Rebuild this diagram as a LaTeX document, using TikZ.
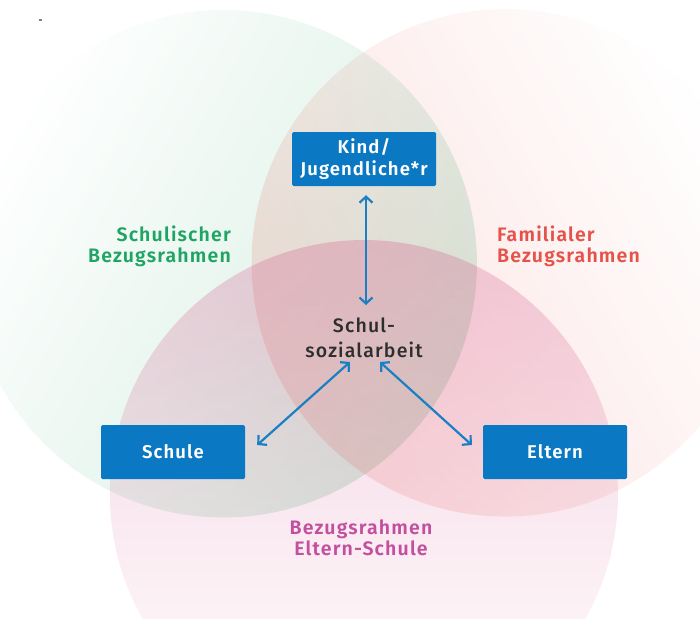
\documentclass[tikz,border=0pt]{standalone}
\usepackage{fontspec}
\setmainfont{Fira Sans}
\newfontfamily\lblfont{Fira Sans}[LetterSpace=6, BoldFont={Fira Sans SemiBold}]
\newfontfamily\midfont{Fira Sans}[LetterSpace=6, UprightFont={Fira Sans Medium}]
\usetikzlibrary{arrows.meta,fadings}
\definecolor{boxblue}{HTML}{0A78C2}
\definecolor{arrowblue}{HTML}{1A7FC3}
\definecolor{schulgreen}{HTML}{2EAA6A}
\definecolor{familred}{HTML}{E85A4F}
\definecolor{elternpink}{HTML}{D0407E}
\definecolor{lblgreen}{HTML}{1FA463}
\definecolor{lblred}{HTML}{E5524A}
\definecolor{lblpink}{HTML}{C2509E}
\definecolor{darktext}{HTML}{2E2E2E}
\tikzfading[name=vennfade, top color=transparent!100, middle color=transparent!35, bottom color=transparent!0]

\begin{document}
\begin{tikzpicture}[x=1pt,y=-1pt]
                    \tikzstyle{every node}+=[inner sep=0pt]
                    \tikzstyle{box}=[fill=boxblue, rounded corners=1.5pt, minimum width=144pt, minimum height=54pt, text=white, align=center, font=\lblfont\bfseries\fontsize{18.5}{22}\selectfont]
                    \tikzstyle{frame}=[align=center, font=\lblfont\bfseries\fontsize{19.5}{21}\selectfont]
                    \tikzstyle{link}=[draw=arrowblue, line width=2.2pt, {Straight Barb[length=6pt,width=13pt]}-{Straight Barb[length=6pt,width=13pt]}]
                    \useasboundingbox (0,0) rectangle (700,618);
                    % the three frames of reference
                    \fill [schulgreen, fill opacity=0.2, path fading=vennfade, fit fading=true, fading angle=60] (223,263) circle (254);
                    \fill [familred, fill opacity=0.18, path fading=vennfade, fit fading=true, fading angle=-60] (506,263) circle (254);
                    \fill [elternpink, fill opacity=0.25, path fading=vennfade, fit fading=true, fading angle=180] (364,494) circle (254);
                    \fill [gray] (39,19) rectangle (42,21);
                    % labels of the circles
                    \node [frame, text=lblgreen, align=right, anchor=east] (schulisch) at (231,246) {Schulischer\\Bezugsrahmen};
                    \node [frame, text=lblred, align=left, anchor=west] (familial) at (497,246) {Familialer\\Bezugsrahmen};
                    \node [frame, text=lblpink] (elternschule) at (361,538) {Bezugsrahmen\\Eltern-Schule};
                    % boxes
                    \node [box] (kind) at (364,159) {Kind/\\Jugendliche*r};
                    \node [box] (schule) at (173,452) {Schule};
                    \node [box] (eltern) at (555,452) {Eltern};
                    \node [frame, text=darktext, font=\midfont\fontsize{19.5}{25}\selectfont] (sozial) at (364,338) {Schul-\\sozialarbeit};
                    % arrows
                    \draw [link] ([xshift=2pt,yshift=-9pt]kind.south) -- ([xshift=2pt,yshift=33pt]sozial.center);
                    \draw [link] ([xshift=-14pt,yshift=-24pt]sozial.center) -- ([xshift=12pt,yshift=7pt]schule.east);
                    \draw [link] ([xshift=16pt,yshift=-24pt]sozial.center) -- ([xshift=-11pt,yshift=7pt]eltern.west);
\end{tikzpicture}
\end{document}
